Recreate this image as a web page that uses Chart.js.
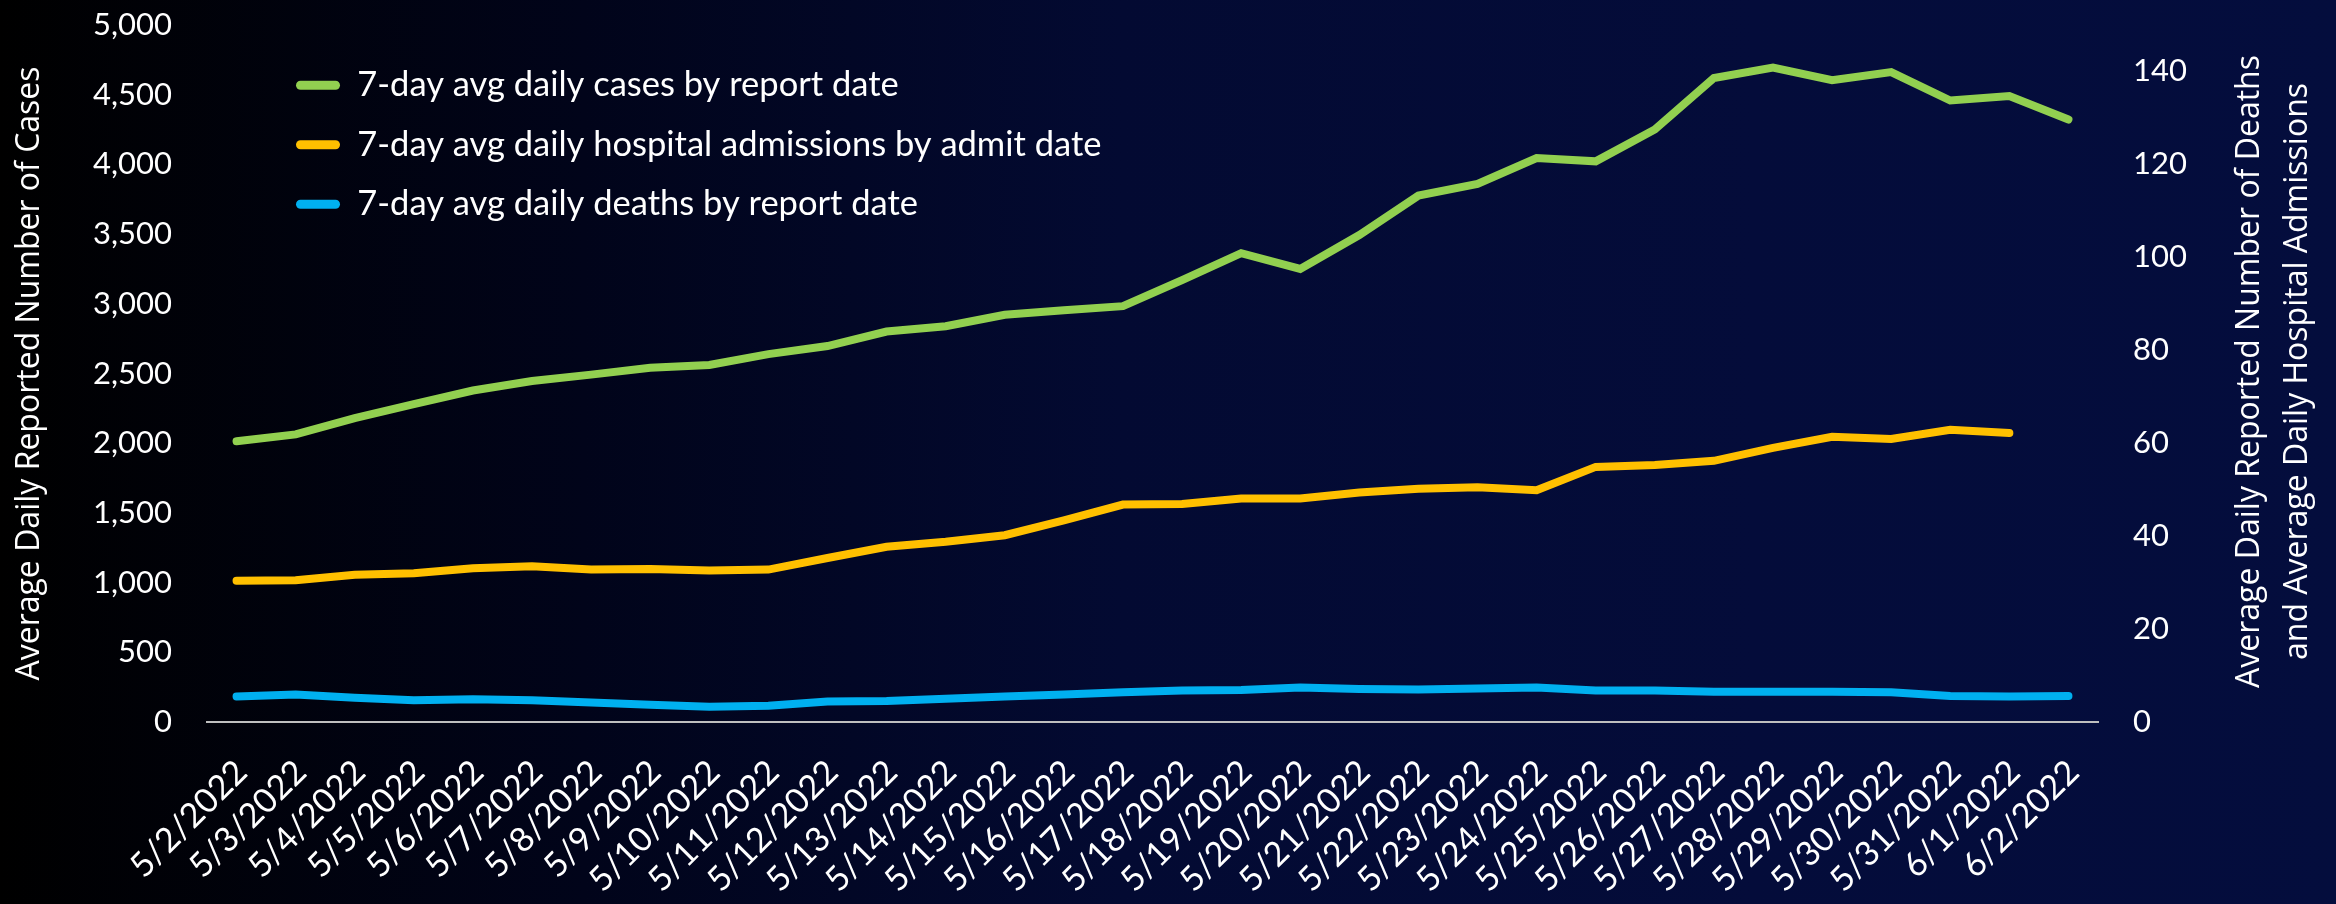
<!DOCTYPE html>
<html>
<head>
<meta charset="utf-8">
<script src="https://cdn.jsdelivr.net/npm/chart.js@4.4.1/dist/chart.umd.min.js"></script>
<style>
  html, body { margin: 0; padding: 0; }
  body {
    width: 2336px; height: 904px; overflow: hidden;
    background: linear-gradient(to right, #000000 0%, #01041a 25%, #030a32 48%, #040c3a 75%, #040d3d 100%);
  }
  canvas { display: block; }
</style>
</head>
<body>
<canvas id="chart" width="2336" height="904"></canvas>
<script>
// data
const dates = [
  '5/2/2022', '5/3/2022', '5/4/2022', '5/5/2022', '5/6/2022', '5/7/2022', '5/8/2022', '5/9/2022',
  '5/10/2022', '5/11/2022', '5/12/2022', '5/13/2022', '5/14/2022', '5/15/2022', '5/16/2022', '5/17/2022',
  '5/18/2022', '5/19/2022', '5/20/2022', '5/21/2022', '5/22/2022', '5/23/2022', '5/24/2022', '5/25/2022',
  '5/26/2022', '5/27/2022', '5/28/2022', '5/29/2022', '5/30/2022', '5/31/2022', '6/1/2022', '6/2/2022'
];
const cases = [
  2014, 2063, 2180, 2281, 2378, 2446, 2492, 2541,
  2561, 2639, 2697, 2801, 2839, 2921, 2954, 2983,
  3170, 3363, 3250, 3493, 3776, 3860, 4045, 4022,
  4250, 4620, 4695, 4604, 4662, 4458, 4490, 4322
];
const admissions = [
  30.4, 30.5, 31.7, 32.0, 33.1, 33.5, 32.8, 32.9,
  32.6, 32.8, 35.3, 37.7, 38.8, 40.2, 43.4, 46.8,
  46.9, 48.1, 48.1, 49.4, 50.2, 50.5, 49.9, 54.9,
  55.3, 56.2, 59.0, 61.4, 60.9, 62.9, 62.2, null
];
const deaths = [
  5.5, 5.9, 5.2, 4.7, 4.9, 4.7, 4.2, 3.7,
  3.3, 3.5, 4.4, 4.5, 5.0, 5.5, 5.9, 6.4,
  6.8, 6.9, 7.4, 7.1, 7.0, 7.2, 7.4, 6.8,
  6.8, 6.5, 6.5, 6.5, 6.4, 5.6, 5.5, 5.6
];
const seriesNames = [
  '7-day avg daily cases by report date',
  '7-day avg daily hospital admissions by admit date',
  '7-day avg daily deaths by report date'
];
const leftTicks = [0, 500, 1000, 1500, 2000, 2500, 3000, 3500, 4000, 4500, 5000];
const rightTicks = [0, 20, 40, 60, 80, 100, 120, 140];
const leftTitle = 'Average Daily Reported Number of Cases';
const rightTitle = ['Average Daily Reported Number of Deaths', 'and Average Daily Hospital Admissions'];

const tickFont = { family: 'Lato', size: 31 };
const dateFont = { family: 'Lato', size: 34 };
const titleFont = { family: 'Open Sans', size: 32 };
const textColor = '#ffffff';

// Chart.js puts a right-side title reading downwards, the picture has it reading upwards
const rightTitlePlugin = {
  id: 'rightTitle',
  afterDraw(chart) {
    const ctx = chart.ctx;
    const area = chart.chartArea;
    const yMid = (area.top + area.bottom) / 2 - 2;
    ctx.save();
    ctx.fillStyle = textColor;
    ctx.font = titleFont.size + 'px "' + titleFont.family + '"';
    ctx.textAlign = 'center';
    ctx.textBaseline = 'middle';
    rightTitle.forEach((line, i) => {
      ctx.save();
      ctx.translate(chart.width - 86 + i * 48, yMid);
      ctx.rotate(-Math.PI / 2);
      ctx.fillText(line, 0, 0);
      ctx.restore();
    });
    ctx.restore();
  }
};

// a vertical legend in the chart area starts at top 0, put it where the picture has it
const legendShift = {
  id: 'legendShift',
  afterLayout(chart) {
    const lg = chart.legend;
    const w = lg.right - lg.left;
    lg.left = chart.chartArea.left + 64;
    lg.right = lg.left + w;
    lg.top = 43;
    lg.bottom = chart.chartArea.bottom;
  }
};

// y axes: fixed width, and no extra room above the top tick
function fixY(width) {
  return (s) => {
    s.width = width;
    s.paddingTop = 0;
    s.paddingBottom = 0;
  };
}

function lineSet(label, data, color, axis) {
  return {
    label: label,
    data: data,
    yAxisID: axis,
    borderColor: color,
    backgroundColor: color,
    borderWidth: 8,
    pointRadius: 0,
    pointHoverRadius: 0,
    borderCapStyle: 'round',
    tension: 0
  };
}

new Chart(document.getElementById('chart').getContext('2d'), {
  type: 'line',
  data: {
    labels: dates,
    datasets: [
      lineSet(seriesNames[0], cases, '#92D050', 'y'),
      lineSet(seriesNames[1], admissions, '#FFC000', 'y1'),
      lineSet(seriesNames[2], deaths, '#00B0F0', 'y1')
    ]
  },
  options: {
    responsive: false,
    animation: false,
    devicePixelRatio: 1,
    layout: { padding: { top: 25, left: 0, right: 0, bottom: 0 } },
    plugins: {
      tooltip: { enabled: false },
      legend: {
        position: 'chartArea',
        align: 'start',
        labels: {
          color: textColor,
          font: { family: 'Lato', size: 34.5 },
          boxWidth: 44,
          boxHeight: 9,
          padding: 25,
          useBorderRadius: true,
          borderRadius: 4.5,
          generateLabels: (chart) => {
            const items = Chart.defaults.plugins.legend.labels.generateLabels(chart);
            items.forEach(it => { it.lineWidth = 0; });
            return items;
          }
        }
      }
    },
    scales: {
      x: {
        type: 'category',
        offset: true,
        grid: { display: false, drawTicks: false },
        border: { display: true, color: '#bfbfbf', width: 2 },
        ticks: {
          color: textColor,
          font: dateFont,
          minRotation: 45,
          maxRotation: 45,
          autoSkip: false,
          padding: 30,
          labelOffset: 5
        },
        afterFit: (s) => { s.height = 182; }
      },
      y: {
        position: 'left',
        min: 0,
        max: 5000,
        grid: { display: false, drawTicks: false },
        border: { display: false },
        ticks: { color: textColor, font: tickFont, padding: 35 },
        afterBuildTicks: (s) => { s.ticks = leftTicks.map(v => ({ value: v })); },
        afterFit: fixY(207),
        title: {
          display: true,
          text: leftTitle,
          color: textColor,
          font: titleFont,
          padding: { top: 11, bottom: 0 }
        }
      },
      y1: {
        position: 'right',
        min: 0,
        max: 150,
        grid: { display: false, drawTicks: false },
        border: { display: false },
        ticks: { color: textColor, font: tickFont, padding: 35 },
        afterBuildTicks: (s) => { s.ticks = rightTicks.map(v => ({ value: v })); },
        afterFit: fixY(238)
      }
    }
  },
  plugins: [rightTitlePlugin, legendShift]
});
</script>
</body>
</html>
